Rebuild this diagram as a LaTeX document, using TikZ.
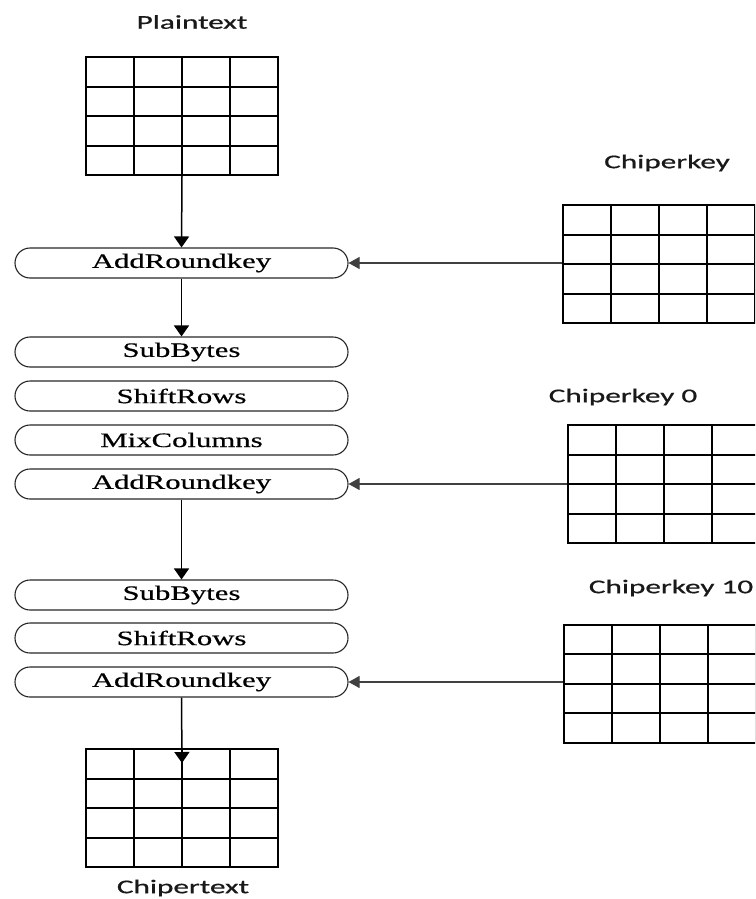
\documentclass[tikz,border=0pt]{standalone}
\usepackage{fontspec}
\usepackage{graphicx}
\usetikzlibrary{arrows.meta,shapes.misc,positioning}
\newfontfamily\keyfont[FakeBold=0.6]{Carlito}
\newfontfamily\opfont[FakeBold=0.4]{Liberation Serif}
\newcommand{\widetext}[2]{\scalebox{#1}[1]{#2}}
\tikzset{
  state/.style={draw, line width=2pt, inner sep=0pt, minimum width=192pt, minimum height=118pt,
    path picture={
      \foreach \i in {1,2,3} {
        \draw[line width=2pt] ([xshift=\i*48pt]path picture bounding box.south west) -- ([xshift=\i*48pt]path picture bounding box.north west);
        \draw[line width=2pt] ([yshift=\i*29.5pt]path picture bounding box.south west) -- ([yshift=\i*29.5pt]path picture bounding box.south east);
      }}},
  opbox/.style={rounded rectangle, draw=black!85, line width=1.1pt, inner sep=0pt,
    minimum width=333pt, minimum height=30pt, font=\opfont\fontsize{20.5}{24}\selectfont},
  lbl/.style={font=\keyfont\fontsize{19.5}{23}\selectfont, text=black!90},
  flow/.style={line width=1.5pt, -{Triangle[length=11pt,width=15pt]}},
  keyline/.style={line width=1.1pt, draw=black!75, -{Triangle[length=11pt,width=12pt]}}
}
\begin{document}
\begin{tikzpicture}[x=1pt,y=-1pt]
\useasboundingbox (0,0) rectangle (755,899);
\clip (0,0) rectangle (755,899);

% state grids
\node[state] (plain) at (182,116) {};
\node[state] (key) at (659,264) {};
\node[state] (key0) at (664,484) {};
\node[state] (key10) at (660,683.5) {};
\node[state] (cipher) at (182,808) {};

% grid labels
\node[lbl] (lplain) at (192,22) {\widetext{1.6}{Plaintext}};
\node[lbl] (lkey) at (667,163) {\widetext{1.6}{Chiperkey}};
\node[lbl] (lkey0) at (623,397) {\widetext{1.6}{Chiperkey 0}};
\node[lbl] (lkey10) at (671,588) {\widetext{1.6}{Chiperkey 10}};
\node[lbl] (lcipher) at (183,888) {\widetext{1.6}{Chipertext}};

% round operations
\node[opbox] (ark1) at (181.5,263) {\widetext{1.5}{AddRoundkey}};
\node[opbox] (sb1) at (181.5,352) {\widetext{1.5}{SubBytes}};
\node[opbox] (sr1) at (181.5,396) {\widetext{1.5}{ShiftRows}};
\node[opbox] (mc) at (181.5,440) {\widetext{1.5}{MixColumns}};
\node[opbox] (ark2) at (181.5,484) {\widetext{1.5}{AddRoundkey}};
\node[opbox] (sb2) at (181.5,595) {\widetext{1.5}{SubBytes}};
\node[opbox] (sr2) at (181.5,638) {\widetext{1.5}{ShiftRows}};
\node[opbox] (ark3) at (181.5,682) {\widetext{1.5}{AddRoundkey}};
\coordinate (ctip) at (182,763);

% data flow
\draw[flow] (plain.south) -- (ark1.north);
\draw[flow] (ark1.south) -- (sb1.north);
\draw[flow] (ark2.south) -- (sb2.north);
\draw[flow] (ark3.south) -- (ctip);

% round keys
\draw[keyline] (ark1.east -| key.west) -- (ark1.east);
\draw[keyline] (ark2.east -| key0.west) -- (ark2.east);
\draw[keyline] (ark3.east -| key10.west) -- (ark3.east);
\end{tikzpicture}
\end{document}
